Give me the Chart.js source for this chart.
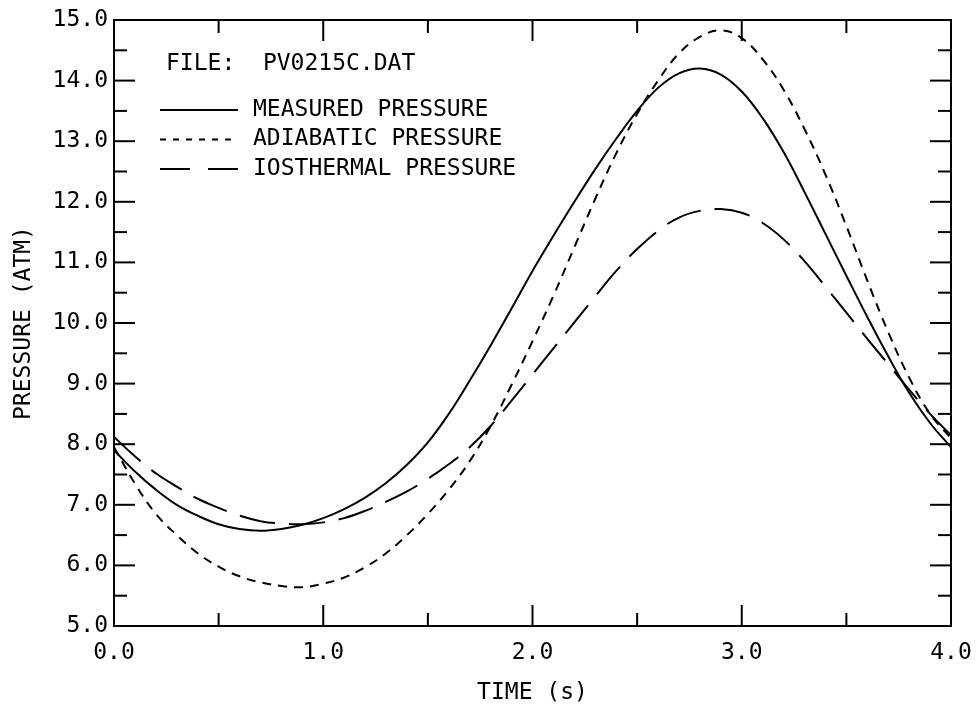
<!DOCTYPE html>
<html>
<head>
<meta charset="utf-8">
<script src="https://cdn.jsdelivr.net/npm/chart.js@4.4.1/dist/chart.umd.min.js"></script>
<style>
  html, body { margin: 0; padding: 0; background: #fff; }
  #wrap { width: 976px; height: 710px; }
</style>
</head>
<body>
<div id="wrap"><canvas id="myChart" width="976" height="710"></canvas></div>
<script>
// tempo (s)
const tempos = [0.0, 0.1, 0.2, 0.3, 0.4, 0.5, 0.6, 0.7, 0.8, 0.9,
                1.0, 1.1, 1.2, 1.3, 1.4, 1.5, 1.6, 1.7, 1.8, 1.9,
                2.0, 2.1, 2.2, 2.3, 2.4, 2.5, 2.6, 2.7, 2.8, 2.9,
                3.0, 3.1, 3.2, 3.3, 3.4, 3.5, 3.6, 3.7, 3.8, 3.9, 4.0];

// pressao medida (atm)
const medida = [7.90, 7.55, 7.25, 7.00, 6.82, 6.68, 6.60, 6.57, 6.60, 6.67,
                6.78, 6.93, 7.12, 7.36, 7.66, 8.03, 8.50, 9.05, 9.63, 10.24,
                10.86, 11.44, 12.00, 12.54, 13.04, 13.50, 13.88, 14.12, 14.20, 14.10,
                13.82, 13.38, 12.82, 12.16, 11.47, 10.78, 10.10, 9.45, 8.85, 8.35, 7.95];

// pressao adiabatica (atm)
const adiabatica = [7.95, 7.35, 6.85, 6.50, 6.20, 5.98, 5.82, 5.72, 5.66, 5.64,
                    5.70, 5.80, 5.97, 6.20, 6.50, 6.85, 7.25, 7.72, 8.30, 8.98,
                    9.70, 10.45, 11.25, 12.05, 12.80, 13.45, 14.00, 14.45, 14.72, 14.83,
                    14.70, 14.35, 13.85, 13.20, 12.45, 11.60, 10.70, 9.85, 9.10, 8.50, 8.10];

// pressao isotermica (atm)
const isotermica = [8.12, 7.80, 7.52, 7.30, 7.10, 6.95, 6.82, 6.73, 6.69, 6.68,
                    6.71, 6.78, 6.90, 7.05, 7.22, 7.43, 7.67, 7.95, 8.30, 8.72,
                    9.15, 9.58, 10.01, 10.44, 10.86, 11.22, 11.52, 11.74, 11.85, 11.88,
                    11.82, 11.65, 11.38, 11.02, 10.60, 10.17, 9.74, 9.32, 8.90, 8.50, 8.15];

const nomes = ['MEASURED PRESSURE', 'ADIABATIC PRESSURE', 'IOSTHERMAL PRESSURE'];
const arquivo = 'FILE:  PV0215C.DAT';

const fonte = "'DejaVu Sans Mono', monospace";

function pontos(valores) {
    return tempos.map((t, i) => ({ x: t, y: valores[i] }));
}

// moldura com ticks para dentro + legenda dentro do grafico
const moldura = {
    id: 'moldura',
    afterDatasetsDraw(chart) {
        const { ctx, chartArea: a, scales: { x, y } } = chart;
        ctx.save();
        ctx.strokeStyle = '#000';
        ctx.lineWidth = 2;
        ctx.setLineDash([]);
        ctx.strokeRect(a.left, a.top, a.right - a.left, a.bottom - a.top);

        function traco(x1, y1, x2, y2) {
            ctx.beginPath();
            ctx.moveTo(x1, y1);
            ctx.lineTo(x2, y2);
            ctx.stroke();
        }

        for (let v = x.min; v <= x.max + 1e-9; v += 0.5) {
            const px = x.getPixelForValue(v);
            const len = Math.abs(v - Math.round(v)) < 1e-6 ? 21 : 13;
            traco(px, a.bottom, px, a.bottom - len);
            traco(px, a.top, px, a.top + len);
        }
        for (let v = y.min; v <= y.max + 1e-9; v += 0.5) {
            const py = y.getPixelForValue(v);
            const len = Math.abs(v - Math.round(v)) < 1e-6 ? 21 : 13;
            traco(a.left, py, a.left + len, py);
            traco(a.right, py, a.right - len, py);
        }

        // legenda
        ctx.fillStyle = '#000';
        ctx.font = '23px ' + fonte;
        ctx.textBaseline = 'middle';
        ctx.textAlign = 'left';
        ctx.fillText(arquivo, 166, 64);

        const dashLegenda = [[], [6, 7], [30, 18]];
        chart.data.datasets.forEach((ds, i) => {
            const yy = 110 + i * 29.5;
            ctx.lineWidth = 2;
            ctx.setLineDash(dashLegenda[i]);
            traco(160, yy, 238, yy);
            ctx.setLineDash([]);
            ctx.fillText(ds.label, 253, yy);
        });
        ctx.restore();
    }
};

Chart.defaults.font.family = fonte;
Chart.defaults.font.size = 23;
Chart.defaults.color = '#000';

const config = {
    type: 'line',
    data: {
        datasets: [{
            label: nomes[0],
            data: pontos(medida),
            borderColor: '#000',
            borderWidth: 2,
            pointRadius: 0,
            tension: 0.4,
        }, {
            label: nomes[1],
            data: pontos(adiabatica),
            borderColor: '#000',
            borderWidth: 2,
            borderDash: [9, 7],
            pointRadius: 0,
            tension: 0.4,
        }, {
            label: nomes[2],
            data: pontos(isotermica),
            borderColor: '#000',
            borderWidth: 2,
            borderDash: [36, 14],
            pointRadius: 0,
            tension: 0.4,
        }]
    },
    options: {
        responsive: false,
        animation: false,
        devicePixelRatio: 1,
        layout: { padding: { top: 20, right: 25, left: 0, bottom: 0 } },
        plugins: {
            legend: { display: false },
            tooltip: { enabled: false },
        },
        scales: {
            x: {
                type: 'linear',
                min: 0,
                max: 4,
                grid: { display: false, drawTicks: false },
                border: { display: false },
                ticks: {
                    stepSize: 1,
                    padding: 13,
                    maxRotation: 0,
                    callback: v => v.toFixed(1),
                },
                title: {
                    display: true,
                    text: 'TIME (s)',
                    padding: { top: 0, bottom: 3 },
                },
                afterFit: s => { s.height = 84; s.paddingLeft = 0; s.paddingRight = 0; },
            },
            y: {
                min: 5,
                max: 15,
                grid: { display: false, drawTicks: false },
                border: { display: false },
                ticks: {
                    stepSize: 1,
                    padding: 6,
                    callback: v => v.toFixed(1),
                },
                title: {
                    display: true,
                    text: 'PRESSURE (ATM)',
                    padding: { top: 10, bottom: 0 },
                },
                afterFit: s => { s.width = 114; s.paddingTop = 0; s.paddingBottom = 0; },
            }
        }
    },
    plugins: [moldura]
};

const ctx = document.getElementById('myChart').getContext('2d');
new Chart(ctx, config);
</script>
</body>
</html>
